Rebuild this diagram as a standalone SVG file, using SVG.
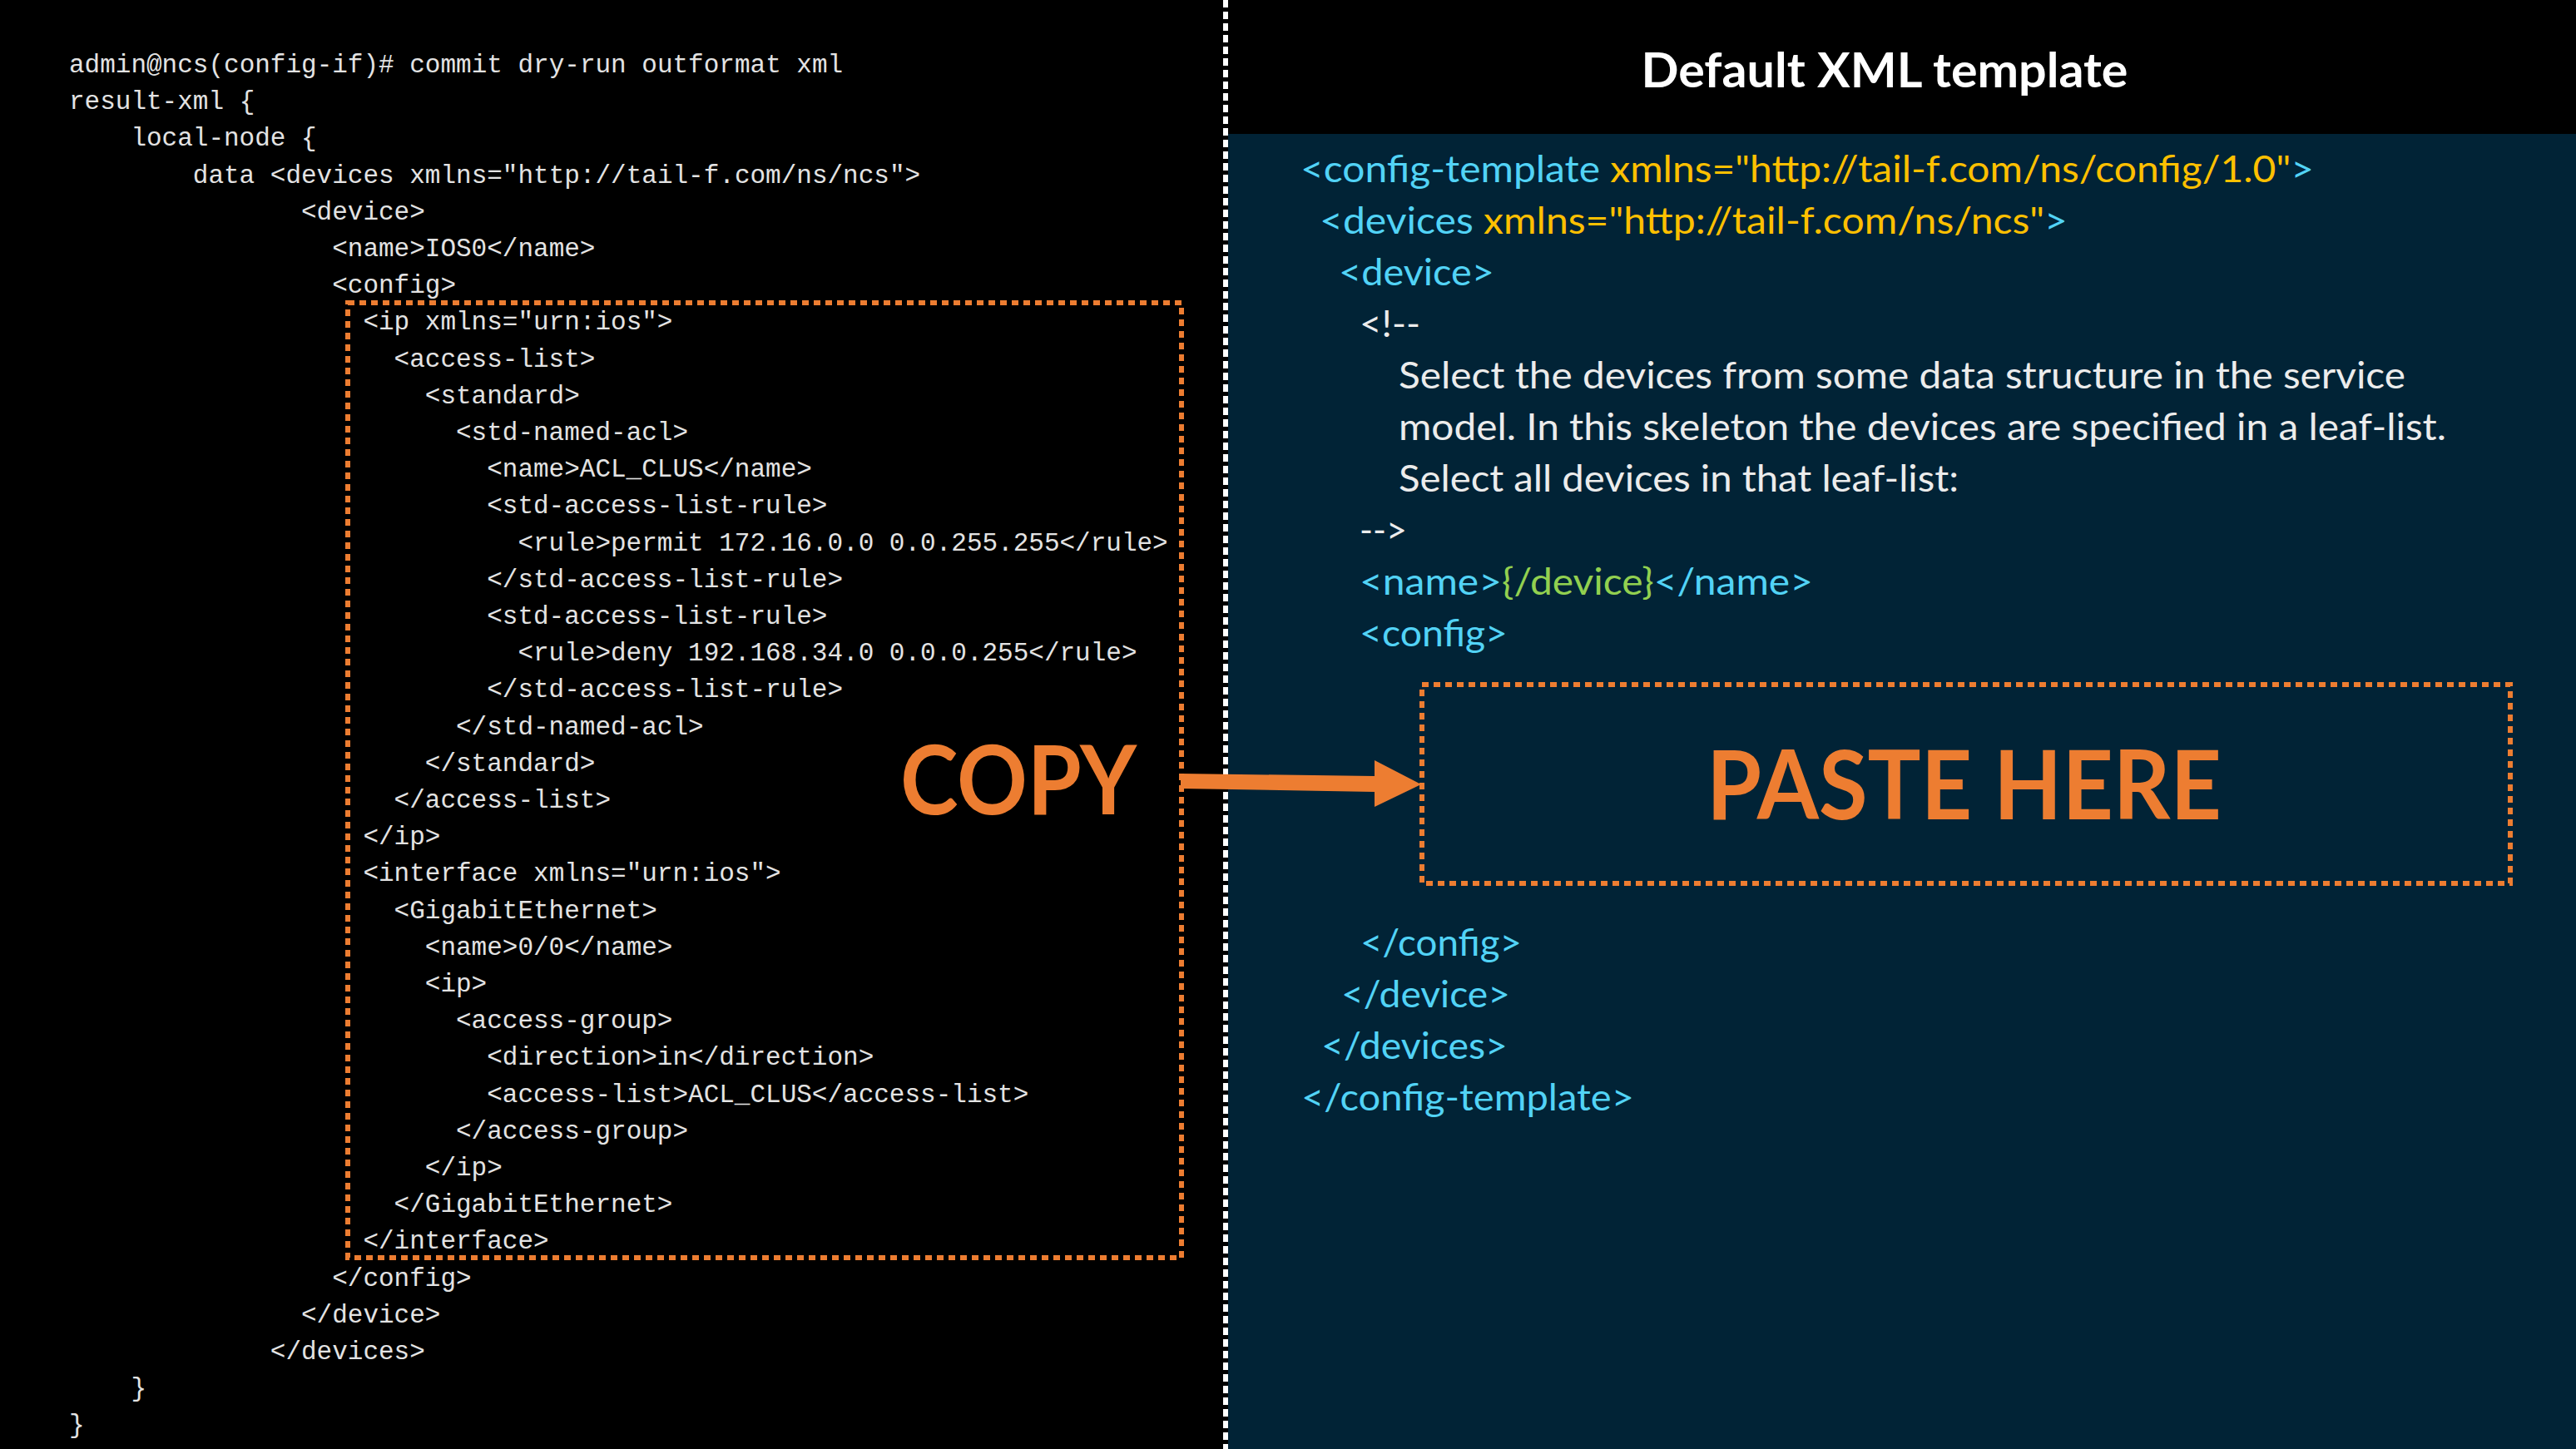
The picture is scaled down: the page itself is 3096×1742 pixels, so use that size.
<svg xmlns="http://www.w3.org/2000/svg" width="3096" height="1742" viewBox="0 0 3096 1742">
<style>
.mono{font-family:"Liberation Mono","DejaVu Sans Mono",monospace;font-size:31px;fill:#e3e3e3}
.cal{font-family:Lato,"Open Sans","Liberation Sans",sans-serif;font-size:44px}
.cy{fill:#52d3f6}
.yl{fill:#ffc000}
.gr{fill:#92d050}
.wh{fill:#ececec}
.big{font-family:Lato,"Open Sans","Liberation Sans",sans-serif;font-weight:700;font-size:114px;fill:#ed7d31}
.box{fill:none;stroke:#ed7d31;stroke-width:6;stroke-dasharray:8 6}
</style>
<rect x="0" y="0" width="3096" height="1742" fill="#000"/>
<rect x="1476" y="161" width="1620" height="1581" fill="#012336"/>
<line x1="1473" y1="0" x2="1473" y2="1742" stroke="#fff" stroke-width="6" stroke-dasharray="9 5"/>

<g id="cli-output">
<text class="mono">
<tspan x="83" y="87">admin@ncs(config-if)# commit dry-run outformat xml</tspan>
<tspan x="83" y="131.2">result-xml {</tspan>
<tspan x="157.4" y="175.4">local-node {</tspan>
<tspan x="231.8" y="219.6">data &lt;devices xmlns="http://tail-f.com/ns/ncs"&gt;</tspan>
<tspan x="362" y="263.8">&lt;device&gt;</tspan>
<tspan x="399.2" y="308">&lt;name&gt;IOS0&lt;/name&gt;</tspan>
<tspan x="399.2" y="352.2">&lt;config&gt;</tspan>
<tspan x="436.4" y="396.4">&lt;ip xmlns="urn:ios"&gt;</tspan>
<tspan x="473.6" y="440.6">&lt;access-list&gt;</tspan>
<tspan x="510.8" y="484.8">&lt;standard&gt;</tspan>
<tspan x="548" y="529">&lt;std-named-acl&gt;</tspan>
<tspan x="585.2" y="573.2">&lt;name&gt;ACL_CLUS&lt;/name&gt;</tspan>
<tspan x="585.2" y="617.4">&lt;std-access-list-rule&gt;</tspan>
<tspan x="622.4" y="661.6">&lt;rule&gt;permit 172.16.0.0 0.0.255.255&lt;/rule&gt;</tspan>
<tspan x="585.2" y="705.8">&lt;/std-access-list-rule&gt;</tspan>
<tspan x="585.2" y="750">&lt;std-access-list-rule&gt;</tspan>
<tspan x="622.4" y="794.2">&lt;rule&gt;deny 192.168.34.0 0.0.0.255&lt;/rule&gt;</tspan>
<tspan x="585.2" y="838.4">&lt;/std-access-list-rule&gt;</tspan>
<tspan x="548" y="882.6">&lt;/std-named-acl&gt;</tspan>
<tspan x="510.8" y="926.8">&lt;/standard&gt;</tspan>
<tspan x="473.6" y="971">&lt;/access-list&gt;</tspan>
<tspan x="436.4" y="1015.2">&lt;/ip&gt;</tspan>
<tspan x="436.4" y="1059.4">&lt;interface xmlns="urn:ios"&gt;</tspan>
<tspan x="473.6" y="1103.6">&lt;GigabitEthernet&gt;</tspan>
<tspan x="510.8" y="1147.8">&lt;name&gt;0/0&lt;/name&gt;</tspan>
<tspan x="510.8" y="1192">&lt;ip&gt;</tspan>
<tspan x="548" y="1236.2">&lt;access-group&gt;</tspan>
<tspan x="585.2" y="1280.4">&lt;direction&gt;in&lt;/direction&gt;</tspan>
<tspan x="585.2" y="1324.6">&lt;access-list&gt;ACL_CLUS&lt;/access-list&gt;</tspan>
<tspan x="548" y="1368.8">&lt;/access-group&gt;</tspan>
<tspan x="510.8" y="1413">&lt;/ip&gt;</tspan>
<tspan x="473.6" y="1457.2">&lt;/GigabitEthernet&gt;</tspan>
<tspan x="436.4" y="1501.4">&lt;/interface&gt;</tspan>
<tspan x="399.2" y="1545.6">&lt;/config&gt;</tspan>
<tspan x="362" y="1589.8">&lt;/device&gt;</tspan>
<tspan x="324.8" y="1634">&lt;/devices&gt;</tspan>
<tspan x="157.4" y="1678.2">}</tspan>
<tspan x="83" y="1722.4">}</tspan>
</text>
</g>

<g id="copy-box">
<rect class="box" x="418" y="364" width="1002" height="1148"/>
<text class="big" x="1082" y="979" textLength="284" lengthAdjust="spacingAndGlyphs">COPY</text>
</g>

<g id="title">
<text x="2265" y="105" text-anchor="middle" font-family="Lato,'Open Sans','Liberation Sans',sans-serif" font-weight="700" font-size="57" fill="#ffffff" textLength="585" lengthAdjust="spacingAndGlyphs">Default XML template</text>
</g>

<g id="xml-template" class="cal">
<text x="1563" y="219" textLength="1218" lengthAdjust="spacingAndGlyphs"><tspan class="cy">&lt;config-template</tspan><tspan class="yl"> xmlns="http://tail-f.com/ns/config/1.0"</tspan><tspan class="cy">&gt;</tspan></text>
<text x="1586" y="281" textLength="899" lengthAdjust="spacingAndGlyphs"><tspan class="cy">&lt;devices</tspan><tspan class="yl"> xmlns="http://tail-f.com/ns/ncs"</tspan><tspan class="cy">&gt;</tspan></text>
<text class="cy" x="1609" y="343" textLength="187" lengthAdjust="spacingAndGlyphs">&lt;device&gt;</text>
<text class="wh" x="1634" y="405" textLength="73" lengthAdjust="spacingAndGlyphs">&lt;!--</text>
<text class="wh" x="1681" y="467" textLength="1210" lengthAdjust="spacingAndGlyphs">Select the devices from some data structure in the service</text>
<text class="wh" x="1681" y="529" textLength="1259" lengthAdjust="spacingAndGlyphs">model. In this skeleton the devices are specified in a leaf-list.</text>
<text class="wh" x="1681" y="591" textLength="673" lengthAdjust="spacingAndGlyphs">Select all devices in that leaf-list:</text>
<text class="wh" x="1634" y="653" textLength="57" lengthAdjust="spacingAndGlyphs">--&gt;</text>
<text x="1634" y="715" textLength="545" lengthAdjust="spacingAndGlyphs"><tspan class="cy">&lt;name&gt;</tspan><tspan class="gr">{/device}</tspan><tspan class="cy">&lt;/name&gt;</tspan></text>
<text class="cy" x="1634" y="777" textLength="178" lengthAdjust="spacingAndGlyphs">&lt;config&gt;</text>
<text class="cy" x="1635" y="1149" textLength="194" lengthAdjust="spacingAndGlyphs">&lt;/config&gt;</text>
<text class="cy" x="1612" y="1211" textLength="203" lengthAdjust="spacingAndGlyphs">&lt;/device&gt;</text>
<text class="cy" x="1588" y="1273" textLength="224" lengthAdjust="spacingAndGlyphs">&lt;/devices&gt;</text>
<text class="cy" x="1564" y="1335" textLength="400" lengthAdjust="spacingAndGlyphs">&lt;/config-template&gt;</text>
</g>

<g id="paste-box">
<rect class="box" x="1709" y="823" width="1308" height="239"/>
<text class="big" x="2051" y="985" textLength="619" lengthAdjust="spacingAndGlyphs">PASTE HERE</text>
</g>

<g id="connectors">
<polygon points="1419,930 1652,933 1652,914 1708,943 1652,970 1652,952 1419,948" fill="#ed7d31"/>
</g>
</svg>
